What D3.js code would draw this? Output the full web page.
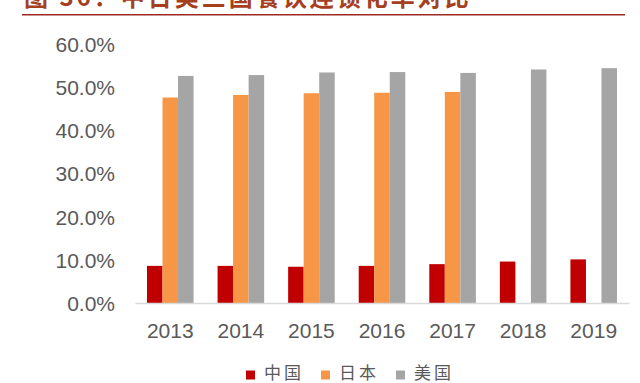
<!DOCTYPE html>
<html><head><meta charset="utf-8">
<script src="https://cdn.jsdelivr.net/npm/d3@7"></script>
<style>
html,body{margin:0;padding:0;background:#fff;}
svg{display:block;}
</style></head>
<body>
<svg id="chart" width="640" height="383"></svg>
<script>
const categories = ["2013","2014","2015","2016","2017","2018","2019"];
const seriesNames = ["中国","日本","美国"];
const china = [8.6, 8.6, 8.4, 8.6, 9.0, 9.6, 10.1];
const japan = [47.6, 48.2, 48.6, 48.7, 48.9, null, null];
const usa = [52.6, 52.8, 53.4, 53.5, 53.3, 54.1, 54.4];
const yTicks = [0, 10, 20, 30, 40, 50, 60];
const colors = ["#C00000", "#F79646", "#A5A5A5"];
const title = "图 36：中日美三国餐饮连锁化率对比";

const seriesValues = [china, japan, usa];
const svg = d3.select("#chart");

// Title
svg.append("text")
  .attr("x", 24).attr("y", 6)
  .attr("font-family", "'Noto Sans CJK SC', sans-serif")
  .attr("font-weight", "bold")
  .attr("font-size", 24)
  .attr("letter-spacing", 3)
  .attr("fill", "#A5401F")
  .text(title);
svg.append("line")
  .attr("x1", 22).attr("x2", 625).attr("y1", 14.7).attr("y2", 14.7)
  .attr("stroke", "#9B2B22").attr("stroke-width", 1.5);

const x0 = d3.scaleBand().domain(categories).range([135, 629]).paddingInner(0.34).paddingOuter(0.17);
const x1 = d3.scaleBand().domain(seriesNames).range([0, x0.bandwidth()]);
const y = d3.scaleLinear().domain([0, 60]).range([303, 44]);

// Y axis labels
const yAxis = d3.axisLeft(y).tickValues(yTicks).tickSize(0).tickPadding(0)
  .tickFormat(d => d.toFixed(1) + "%");
const yg = svg.append("g").attr("transform", "translate(115,0)").call(yAxis);
yg.select(".domain").remove();
yg.selectAll("text")
  .attr("font-family", "'Liberation Sans', Arial, sans-serif")
  .attr("font-size", 21).attr("fill", "#595959").attr("dy", "0.35em");

// Bars
const groups = svg.append("g").selectAll("g").data(categories).join("g")
  .attr("transform", d => `translate(${x0(d)},0)`);
groups.selectAll("rect")
  .data((d, i) => seriesNames.map((s, j) => ({s, v: seriesValues[j][i], c: colors[j]})).filter(e => e.v != null))
  .join("rect")
  .attr("x", e => x1(e.s))
  .attr("width", x1.bandwidth())
  .attr("y", e => y(e.v))
  .attr("height", e => y(0) - y(e.v))
  .attr("fill", e => e.c);

// X axis
const xAxis = d3.axisBottom(x0).tickSize(0).tickPadding(0);
const xg = svg.append("g").attr("transform", `translate(0,${y(0)})`).call(xAxis);
xg.select(".domain").attr("stroke", "#D9D9D9").attr("stroke-width", 1.5);
xg.selectAll("text")
  .attr("font-family", "'Liberation Sans', Arial, sans-serif")
  .attr("font-size", 21).attr("fill", "#595959").attr("dy", "34.5px");

// Legend
const legendX = [246, 321, 396];
const lg = svg.append("g");
seriesNames.forEach((s, i) => {
  lg.append("rect").attr("x", legendX[i]).attr("y", 370.5).attr("width", 9).attr("height", 9).attr("fill", colors[i]);
  lg.append("text").attr("x", legendX[i] + 18).attr("y", 378.5)
    .attr("font-family", "'Noto Sans CJK SC', sans-serif")
    .attr("font-size", 17).attr("letter-spacing", 3).attr("fill", "#595959")
    .text(s);
});
</script>
</body></html>
